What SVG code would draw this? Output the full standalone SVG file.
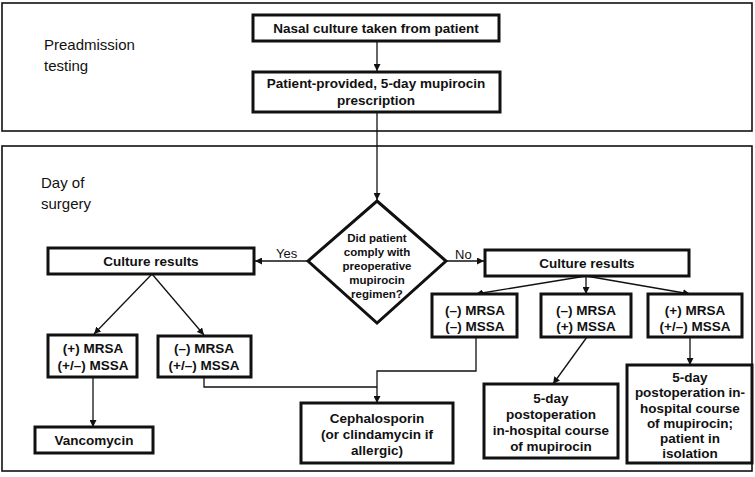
<svg xmlns="http://www.w3.org/2000/svg" width="755" height="477" viewBox="0 0 755 477">
<style>
.panel{fill:none;stroke:#111;stroke-width:1.6}
.box{fill:#fff;stroke:#111;stroke-width:3}
.t{font-family:"Liberation Sans",Arial,sans-serif;font-weight:bold;font-size:13.5px;fill:#111;text-anchor:middle}
.s{font-size:11.5px}
.lab{font-family:"Liberation Sans",Arial,sans-serif;font-size:15px;fill:#111}
.yn{font-family:"Liberation Sans",Arial,sans-serif;font-size:13px;fill:#111}
.c{fill:none;stroke:#111;stroke-width:1.3}
</style>
<defs>
<marker id="ah" viewBox="0 0 10 10" refX="10" refY="5" markerWidth="7" markerHeight="7" markerUnits="userSpaceOnUse" orient="auto">
<path d="M0,0 L10,5 L0,10 z" fill="#111"/>
</marker>
</defs>
<rect width="755" height="477" fill="#fff"/>
<g id="panel-preadmission">
<rect class="panel" x="2" y="3" width="750" height="128"/>
<text class="lab" x="44" y="50">Preadmission</text>
<text class="lab" x="44" y="71">testing</text>
</g>
<g id="panel-surgery">
<rect class="panel" x="2" y="146" width="750" height="325"/>
<text class="lab" x="41" y="188">Day of</text>
<text class="lab" x="41" y="209">surgery</text>
</g>
<g id="connectors">
<path class="c" d="M377,41 V71" marker-end="url(#ah)"/>
<path class="c" d="M377,112 V200" marker-end="url(#ah)"/>
<path class="c" d="M308,261 H255" marker-end="url(#ah)"/>
<path class="c" d="M446,261 H484" marker-end="url(#ah)"/>
<path class="c" d="M152,274 L94,334" marker-end="url(#ah)"/>
<path class="c" d="M152,274 L204,335" marker-end="url(#ah)"/>
<path class="c" d="M93,377 V427" marker-end="url(#ah)"/>
<path class="c" d="M204,377 V387 H377"/>
<path class="c" d="M476,337 V371 H377 V403" marker-end="url(#ah)"/>
<path class="c" d="M586,276 L476,294" marker-end="url(#ah)"/>
<path class="c" d="M586,276 V294" marker-end="url(#ah)"/>
<path class="c" d="M586,276 L690,294" marker-end="url(#ah)"/>
<path class="c" d="M587,337 L553,384" marker-end="url(#ah)"/>
<path class="c" d="M690,337 V365" marker-end="url(#ah)"/>
<text class="yn" x="276" y="258">Yes</text>
<text class="yn" x="455" y="259">No</text>
</g>
<g id="nasal">
<rect class="box" x="253" y="15" width="246" height="26"/>
<text class="t" x="376" y="33">Nasal culture taken from patient</text>
</g>
<g id="prescription">
<rect class="box" x="253" y="72" width="247" height="40"/>
<text class="t" x="376" y="88">Patient-provided, 5-day mupirocin</text>
<text class="t" x="376" y="105">prescription</text>
</g>
<g id="decision">
<polygon class="box" points="377,201 446,261 377,323 308,261"/>
<text class="t s" x="377" y="242">Did patient</text>
<text class="t s" x="377" y="256">comply with</text>
<text class="t s" x="377" y="270">preoperative</text>
<text class="t s" x="377" y="284">mupirocin</text>
<text class="t s" x="377" y="298">regimen?</text>
</g>
<g id="culture-left">
<rect class="box" x="48" y="248" width="206" height="26"/>
<text class="t" x="151" y="266">Culture results</text>
</g>
<g id="culture-right">
<rect class="box" x="485" y="250" width="204" height="26"/>
<text class="t" x="587" y="268">Culture results</text>
</g>
<g id="left-pos-mrsa">
<rect class="box" x="48" y="335" width="89" height="42"/>
<text class="t" x="93" y="353">(+) MRSA</text>
<text class="t" x="93" y="370">(+/–) MSSA</text>
</g>
<g id="left-neg-mrsa">
<rect class="box" x="158" y="336" width="93" height="41"/>
<text class="t" x="204" y="353">(–) MRSA</text>
<text class="t" x="204" y="370">(+/–) MSSA</text>
</g>
<g id="vancomycin">
<rect class="box" x="35" y="427" width="118" height="26"/>
<text class="t" x="94" y="445">Vancomycin</text>
</g>
<g id="cephalosporin">
<rect class="box" x="301" y="403" width="152" height="60"/>
<text class="t" x="377" y="423">Cephalosporin</text>
<text class="t" x="377" y="439">(or clindamycin if</text>
<text class="t" x="377" y="455">allergic)</text>
</g>
<g id="right-neg-neg">
<rect class="box" x="432" y="294" width="85" height="43"/>
<text class="t" x="475" y="315">(–) MRSA</text>
<text class="t" x="475" y="331">(–) MSSA</text>
</g>
<g id="right-neg-pos">
<rect class="box" x="541" y="294" width="90" height="43"/>
<text class="t" x="586" y="315">(–) MRSA</text>
<text class="t" x="586" y="331">(+) MSSA</text>
</g>
<g id="right-pos">
<rect class="box" x="648" y="294" width="94" height="43"/>
<text class="t" x="695" y="315">(+) MRSA</text>
<text class="t" x="695" y="331">(+/–) MSSA</text>
</g>
<g id="postop">
<rect class="box" x="484" y="384" width="134" height="74"/>
<text class="t" x="551" y="403">5-day</text>
<text class="t" x="551" y="419">postoperation</text>
<text class="t" x="551" y="435">in-hospital course</text>
<text class="t" x="551" y="451">of mupirocin</text>
</g>
<g id="postop-isolation">
<rect class="box" x="627" y="365" width="125" height="98"/>
<text class="t" x="690" y="382">5-day</text>
<text class="t" x="690" y="397">postoperation in-</text>
<text class="t" x="690" y="413">hospital course</text>
<text class="t" x="690" y="428">of mupirocin;</text>
<text class="t" x="690" y="443">patient in</text>
<text class="t" x="690" y="458">isolation</text>
</g>
</svg>
